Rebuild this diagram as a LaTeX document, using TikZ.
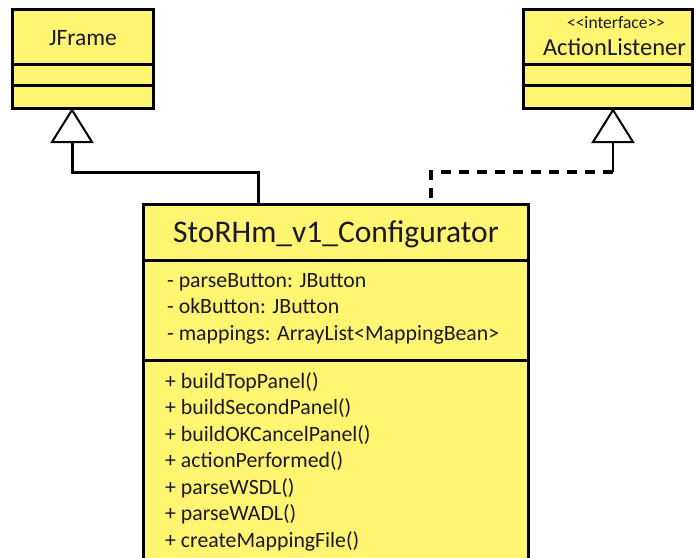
\documentclass[tikz,border=0pt]{standalone}
\usepackage{fontspec}
\setmainfont{Carlito}
\definecolor{umlyellow}{RGB}{255,245,112}
\definecolor{ink}{RGB}{25,25,40}
\begin{document}
\begin{tikzpicture}[x=1pt,y=-1pt,
  cls/.style={draw=black, fill=umlyellow, line width=3pt, inner sep=0pt, outer sep=0pt},
  div/.style={line width=3pt},
  tri/.style={draw=black, fill=white, line width=2pt, line join=miter},
  conn/.style={line width=3pt},
  thinconn/.style={line width=2pt},
  dconn/.style={line width=3.5pt, dash pattern=on 10pt off 8pt},
  txt/.style={text=ink, inner sep=0pt},
  member/.style={txt, anchor=base west, font=\fontsize{21.8}{21.8}\selectfont}]
\clip (0,0) rectangle (696,557);
\fill[white] (0,0) rectangle (696,557);

% JFrame
\node[cls, minimum width=141pt, minimum height=99pt] (jframe) at (82.5,58.5) {};
\draw[div] (jframe.west |- 0,64) -- (jframe.east |- 0,64);
\draw[div] (jframe.west |- 0,85) -- (jframe.east |- 0,85);
\node[txt, font=\fontsize{23.5}{23.5}\selectfont, anchor=base] (jtitle) at (83,45) {JFrame};

% ActionListener
\node[cls, minimum width=169pt, minimum height=99pt] (alist) at (607.5,58.5) {};
\draw[div] (alist.west |- 0,64) -- (alist.east |- 0,64);
\draw[div] (alist.west |- 0,85) -- (alist.east |- 0,85);
\node[txt, font=\fontsize{17.5}{17.5}\selectfont, anchor=base] (stereo) at (616,28) {{<}{<}interface{>}{>}};
\node[txt, font=\fontsize{24.5}{24.5}\selectfont, anchor=base] (atitle) at (614.5,55) {ActionListener};

% Main class
\node[cls, minimum width=385pt, minimum height=396pt] (main) at (335.5,402) {};
\draw[div] (main.west |- 0,260) -- (main.east |- 0,260);
\draw[div] (main.west |- 0,360) -- (main.east |- 0,360);
\node[txt, font=\fontsize{31.5}{31.5}\selectfont, anchor=base] (mtitle) at (336,242) {StoRHm\_v1\_Configurator};

\foreach \t [count=\i] in {- parseButton: JButton, - okButton: JButton, - mappings: ArrayList{<}MappingBean{>}}
  \node[member] (a\i) at (167,{287+26.5*(\i-1)}) {\t};
\foreach \t [count=\i] in {+ buildTopPanel(), + buildSecondPanel(), + buildOKCancelPanel(), + actionPerformed(), + parseWSDL(), + parseWADL(), + createMappingFile()}
  \node[member] (m\i) at (165,{388+26.5*(\i-1)}) {\t};

% connectors
\coordinate (jtip) at (72,110);
\coordinate (jbase) at (72,142);
\draw[conn] (jbase) -- (72,172) -| (main.north -| 258,0);
\draw[tri] (jtip) -- (52,142) -- (92,142) -- cycle;

\coordinate (atip) at (613,110);
\coordinate (abase) at (613,142);
\coordinate (abend) at (613,172);
\draw[thinconn] (abase) -- (abend);
\draw[dconn] (abend) -| (main.north -| 431,0);
\draw[tri] (atip) -- (593,142) -- (633,142) -- cycle;
\end{tikzpicture}
\end{document}
